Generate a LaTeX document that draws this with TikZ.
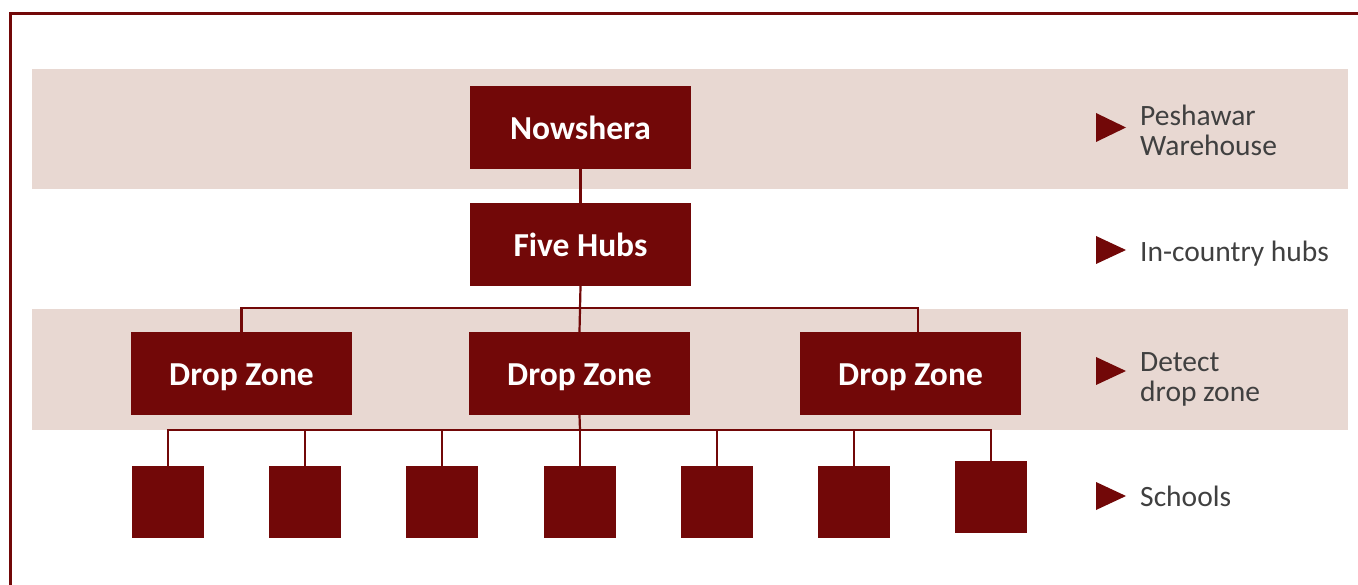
\documentclass[tikz,border=0pt]{standalone}
\usepackage{fontspec}
\setmainfont{Carlito}
\definecolor{dred}{RGB}{114,8,8}
\definecolor{band}{RGB}{232,216,210}
\definecolor{lbl}{RGB}{64,64,64}
\begin{document}
\begin{tikzpicture}[x=1pt,y=-1pt,
 box/.style={fill=dred, draw=none, minimum width=221pt, minimum height=83pt, inner sep=0pt, text=white, text height=24pt, text depth=0pt, font=\fontsize{33.5}{36}\selectfont\bfseries},
 school/.style={fill=dred, draw=none, minimum size=72pt, inner sep=0pt},
 conn/.style={draw=dred, line width=2.2pt},
 tri/.style={fill=dred},
 lab/.style={anchor=base west, text=lbl, align=left, font=\fontsize{29.5}{30}\selectfont, inner sep=0pt}]
\useasboundingbox (0,0) rectangle (1358,585);
\fill[white] (0,0) rectangle (1358,585);
\fill[band] (32,69) rectangle (1348,189);
\fill[band] (32,309) rectangle (1348,430);
\draw[dred, line width=3pt] (10.5,585) -- (10.5,14) -- (1358,14);

% main boxes
\node[box] (now) at (580.5,127.5) {Nowshera};
\node[box] (hubs) at (580.5,244.5) {Five Hubs};
\node[box] (dzL) at (241.5,373.5) {Drop Zone};
\node[box] (dzM) at (579.5,373.5) {Drop Zone};
\node[box] (dzR) at (910.5,373.5) {Drop Zone};

% schools
\node[school] (s1) at (168,502) {};
\node[school] (s2) at (305,502) {};
\node[school] (s3) at (442,502) {};
\node[school] (s4) at (580,502) {};
\node[school] (s5) at (717,502) {};
\node[school] (s6) at (854,502) {};
\node[school] (s7) at (991,497) {};

% bus coordinates
\coordinate (busT) at (580,308);
\coordinate (busTR) at (918,308);
\coordinate (busB) at (580,430);

% connectors
\draw[conn] (now.south) -- (hubs.north);
\draw[conn] (hubs.south) -- (dzM.north);
\draw[conn] (dzL.north) |- (busT) -- (busTR) -- (busTR |- dzR.north);
\draw[conn] (dzM.south) -- (busB);
\draw[conn] (s1.north) |- (busB) -| (s7.north);
\foreach \s in {s2,s3,s4,s5,s6} {\draw[conn] (\s.north) -- (\s.north |- busB);}

% legend
\fill[tri] (1096,113) -- (1126,127.5) -- (1096,142) -- cycle;
\fill[tri] (1096,236) -- (1126,250) -- (1096,264) -- cycle;
\fill[tri] (1096,357) -- (1126,371) -- (1096,385) -- cycle;
\fill[tri] (1096,482) -- (1126,496) -- (1096,510) -- cycle;
\node[lab] (l1) at (1140,155.7) {Peshawar\\Warehouse};
\node[lab] (l2) at (1140,261.5) {In-country hubs};
\node[lab] (l3) at (1140,401) {Detect\\drop zone};
\node[lab] (l4) at (1140,506.5) {Schools};
\end{tikzpicture}
\end{document}
